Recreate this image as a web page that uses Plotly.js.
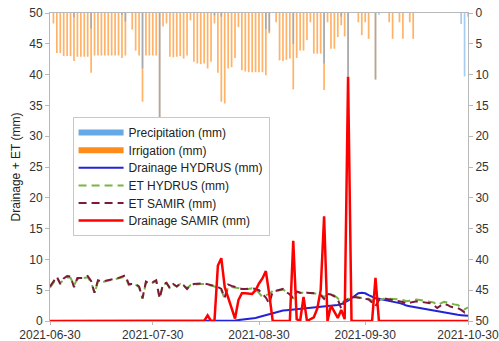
<!DOCTYPE html>
<html>
<head>
<meta charset="utf-8">
<script src="https://cdn.plot.ly/plotly-3.0.1.min.js"></script>
<style>html,body{margin:0;padding:0;background:#fff;}#chart{width:499px;height:341px;}</style>
</head>
<body>
<div id="chart"></div>
<script>
// Line series: one value per day starting 2021-06-30
var lineStart = '2021-06-30';
var drainageHydrus = [
  0,0,0,0,0,0,0,0,0,0, 0,0,0,0,0,0,0,0,0,0, 0,0,0,0,0,0,0,0,0,0,
  0,0,0,0,0,0,0,0,0,0, 0,0,0,0,0,0,0,0,0,0, 0,0,0,0.05,0.1,0.15,0.2,0.25,0.3,0.4,
  0.5,0.65,0.8,0.95,1.1,1.3,1.5,1.65,1.7,1.75, 1.8,1.85,1.9,2.0,2.05,2.1,2.2,2.25,2.3,2.35,
  2.4,2.45,2.5,2.55,2.6,2.75,3.0,3.3,3.7,4.1, 4.5,4.6,4.5,4.2,3.9,3.7,3.6,3.5,3.4,3.3,
  3.2,3.05,2.9,2.75,2.5,2.4,2.3,2.2,2.05,1.9, 1.8,1.7,1.6,1.5,1.4,1.3,1.2,1.15,1.1,1.0,
  0.95,0.9,0.85
];
var etHydrus = [
  5.4,6.3,7.0,6.2,6.7,7.1,7.0,5.8,6.8,6.9, 6.9,7.1,6.3,4.5,6.4,6.3,6.4,6.6,6.7,6.8,
  6.9,7.1,7.2,5.8,5.9,5.9,5.5,3.6,6.2,6.0, 6.2,6.5,3.6,5.9,6.1,5.4,5.9,5.6,6.0,5.8,
  5.3,5.8,5.9,6.0,6.0,6.0,5.9,5.8,5.6,5.4, 5.0,3.6,5.6,5.5,5.4,5.3,5.2,5.2,5.2,5.3,
  5.2,4.6,3.9,4.2,4.4,4.9,4.9,5.0,5.1,4.8, 4.5,3.6,4.7,4.6,4.6,4.6,4.6,4.5,4.4,4.3,
  3.9,4.3,4.3,4.1,3.7,3.0,3.2,3.6,3.8,3.9, 3.8,3.7,3.7,3.6,3.3,2.8,3.4,3.6,3.7,3.6,
  3.6,3.5,3.5,3.4,3.2,3.3,3.4,3.5,3.4,3.3, 3.3,3.2,3.0,2.6,2.9,3.1,3.0,2.8,2.7,2.6,
  2.3,1.9,2.2
];
var etSamir = [
  5.6,6.5,7.2,6.0,6.9,7.3,7.2,5.5,7.0,7.0, 7.0,7.3,6.5,4.6,6.6,6.4,6.5,6.7,6.8,6.9,
  7.0,7.2,7.4,6.0,6.0,6.0,5.6,3.7,6.4,6.1, 6.3,6.6,3.7,6.0,6.2,5.3,6.0,5.6,6.1,5.8,
  5.2,5.8,6.0,6.1,6.1,6.1,6.0,5.9,5.7,5.5, 5.2,3.8,5.9,5.7,5.5,5.4,5.2,5.2,5.3,5.3,
  5.2,5.0,4.4,3.8,2.8,4.8,4.9,5.0,5.2,4.7, 4.3,3.7,4.8,4.6,4.5,4.6,4.6,4.5,4.4,4.2,
  3.6,4.4,4.3,4.0,3.5,2.0,3.3,3.6,3.8,3.9, 3.8,3.7,3.6,3.5,3.0,2.4,3.4,3.6,3.6,3.5,
  3.5,3.4,3.3,3.1,2.8,3.0,3.1,3.2,3.1,3.0, 2.9,2.9,2.6,2.1,2.5,2.8,2.6,2.3,2.2,2.1,
  1.8,1.4,2.0
];
var drainageSamir = [
  0,0,0,0,0,0,0,0,0,0, 0,0,0,0,0,0,0,0,0,0, 0,0,0,0,0,0,0,0,0,0,
  0,0,0,0,0,0,0,0,0,0, 0,0,0,0,0,0,0.9,0,0,9.0, 10.2,5.5,3.8,2.0,0.4,3.4,4.5,4.5,4.5,4.4,
  5.0,6.1,6.9,8.1,4.3,0,0,0,0,0, 0,13.0,0.3,0,3.9,0,0.3,0.6,2.0,5.0,
  17.0,0,2.5,1.5,0.5,1.8,0.3,39.7,0,0, 0,0,0,0,0,7.0,0,0,0,0,
  0,0,0,0,0,0,0,0,0,0, 0,0,0,0,0,0,0,0,0,0, 0,0,0
];
// Bar series: one value per day starting 2021-07-01
var barStart = '2021-07-01';
var irrigation = [
  1.7,6.5,6.5,7.0,7.0,7.0,7.8,7.1,7.1,7.1, 7.1,9.7,6.9,6.9,6.9,6.9,6.9,6.9,6.9,6.9,
  7.3,6.9,0,2.7,6.1,6.9,14.4,6.9,6.9,6.9, 6.9,17.2,2.2,1.7,7.1,7.2,7.1,7.0,7.4,6.9,
  1.2,7.9,8.2,8.3,8.2,9.0,7.9,1.7,9.7,14.4, 14.7,9.0,8.8,7.3,2.3,9.3,9.5,9.6,9.6,9.6,
  9.6,9.6,10.1,3.3,0,1.5,7.7,7.8,7.6,7.4, 12.4,7.3,6.1,6.1,4.4,1.5,6.6,6.6,6.6,12.5,
  1.5,5.8,5.8,3.9,2.0,3.8,10.3,0,0,1.5, 3.6,1.5,4.2,0,10.8,0,0,0,1.5,4.2,
  0,1.5,4.2,0,1.5,4.2,0,0,0,0, 0,0,0,0,0,0,0,0,0,0, 0,0
];
var precipitation = [
  0,0,0,0,0,0,0.7,0,0,0, 0,2.5,0,0,0,0,0,0,0,0,
  0.3,1.4,0,0,0,0,9.0,0,0,0, 0,17.2,0,0,0,0,0,0,0,0,
  0,0,0,0,0,0,0,0.4,0,0.6, 0,0,0,0,0,0,0,0,0,0,
  0,0,2.6,3.0,0,0,0,0,0,0, 5.0,0,0,0,0,0,0,0,0,8.2,
  0,0,0,0,0.6,0,10.3,0,0,0, 0,0,0,0,10.8,0.3,0,0,0,0,
  0,0,0,0,0,0,0,0,0,0, 0,0,0,0,0,0,0,0,0,1.8, 10.3,0.6
];
var tickLabels = ['2021-06-30','2021-07-30','2021-08-30','2021-09-30','2021-10-30'];

function dates(start, n) {
  var out = [], t0 = Date.parse(start + 'T00:00:00Z');
  for (var i = 0; i < n; i++) {
    out.push(new Date(t0 + i * 86400000).toISOString().slice(0, 10));
  }
  return out;
}
var xLine = dates(lineStart, drainageSamir.length);
var xBar = dates(barStart, irrigation.length);

var font = 'Liberation Sans, Arial, sans-serif';
var barW = 0.5 * 86400000;

var traces = [
  {x:[null], y:[null], type:'scatter', mode:'lines', name:'Precipitation (mm)',
   line:{color:'#65aae6', width:6}, hoverinfo:'skip'},
  {x:[null], y:[null], type:'scatter', mode:'lines', name:'Irrigation (mm)',
   line:{color:'#ff8c1a', width:6}, hoverinfo:'skip'},
  {x:xLine, y:drainageHydrus, type:'scatter', mode:'lines', name:'Drainage HYDRUS (mm)',
   line:{color:'#2323d6', width:2}},
  {x:xLine, y:etHydrus, type:'scatter', mode:'lines', name:'ET HYDRUS (mm)',
   line:{color:'#77b545', width:2, dash:'8px,5px'}},
  {x:xLine, y:etSamir, type:'scatter', mode:'lines', name:'ET SAMIR (mm)',
   line:{color:'#7d1a3a', width:2, dash:'8px,5px'}},
  {x:xLine, y:drainageSamir, type:'scatter', mode:'lines', name:'Drainage SAMIR (mm)',
   line:{color:'#ff0000', width:2.5}},
  {x:xBar, y:irrigation, type:'bar', yaxis:'y2', width:barW, showlegend:false,
   name:'Irrigation (mm)', marker:{color:'#ffa64d', opacity:0.85, line:{width:0}}},
  {x:xBar, y:precipitation, type:'bar', yaxis:'y2', width:barW, showlegend:false,
   name:'Precipitation (mm)', marker:{color:'#5ea3e6', opacity:0.55, line:{width:0}}}
];

var axisCommon = {
  showgrid:false, zeroline:false, showline:true, linecolor:'#b8b8b8', linewidth:1,
  ticks:'outside', ticklen:4, tickcolor:'#b8b8b8',
  tickfont:{family:font, size:12, color:'#333'}
};

var layout = {
  width:499, height:341,
  margin:{l:50, r:31, t:13, b:20, pad:0},
  paper_bgcolor:'#fff', plot_bgcolor:'#fff',
  font:{family:font, size:12, color:'#333'},
  barmode:'overlay',
  showlegend:true,
  legend:{x:0.054, y:0.662, xanchor:'left', yanchor:'top',
    bgcolor:'#fff', bordercolor:'#c8c8c8', borderwidth:1,
    font:{family:font, size:12, color:'#222'}, tracegroupgap:0, itemwidth:45},
  xaxis:Object.assign({}, axisCommon, {
    type:'date', range:['2021-06-30','2021-10-30'],
    tickvals:tickLabels, ticktext:tickLabels, mirror:true,
    ticklabeloverflow:'allow', ticklen:3
  }),
  yaxis:Object.assign({}, axisCommon, {
    range:[0,50], dtick:5, tick0:0,
    title:{text:'Drainage + ET (mm)', font:{family:font, size:12, color:'#222'}, standoff:6}
  }),
  yaxis2:Object.assign({}, axisCommon, {
    overlaying:'y', side:'right', range:[50,0], dtick:5, tick0:0
  })
};

var gd = document.getElementById('chart');
Plotly.newPlot(gd, traces, layout, {displayModeBar:false, staticPlot:true}).then(function () {
  // tighten legend row spacing to match the reference
  var k = 17.6 / 19;
  var items = gd.querySelectorAll('.legend .traces');
  if (items.length < 2) return;
  var pos = [];
  items.forEach(function (g) {
    var m = /translate\(\s*([-\d.]+)[ ,]+([-\d.]+)\s*\)/.exec(g.getAttribute('transform') || '');
    pos.push(m ? [parseFloat(m[1]), parseFloat(m[2])] : null);
  });
  if (pos.some(function (p) { return !p; })) return;
  var y0 = pos[0][1], shrink = 0;
  items.forEach(function (g, i) {
    var ny = y0 + (pos[i][1] - y0) * k;
    g.setAttribute('transform', 'translate(' + pos[i][0] + ',' + ny + ')');
  });
  shrink = (pos[pos.length - 1][1] - y0) * (1 - k);
  var bg = gd.querySelector('.legend .bg');
  if (bg) bg.setAttribute('height', parseFloat(bg.getAttribute('height')) - shrink);
});
</script>
</body>
</html>
